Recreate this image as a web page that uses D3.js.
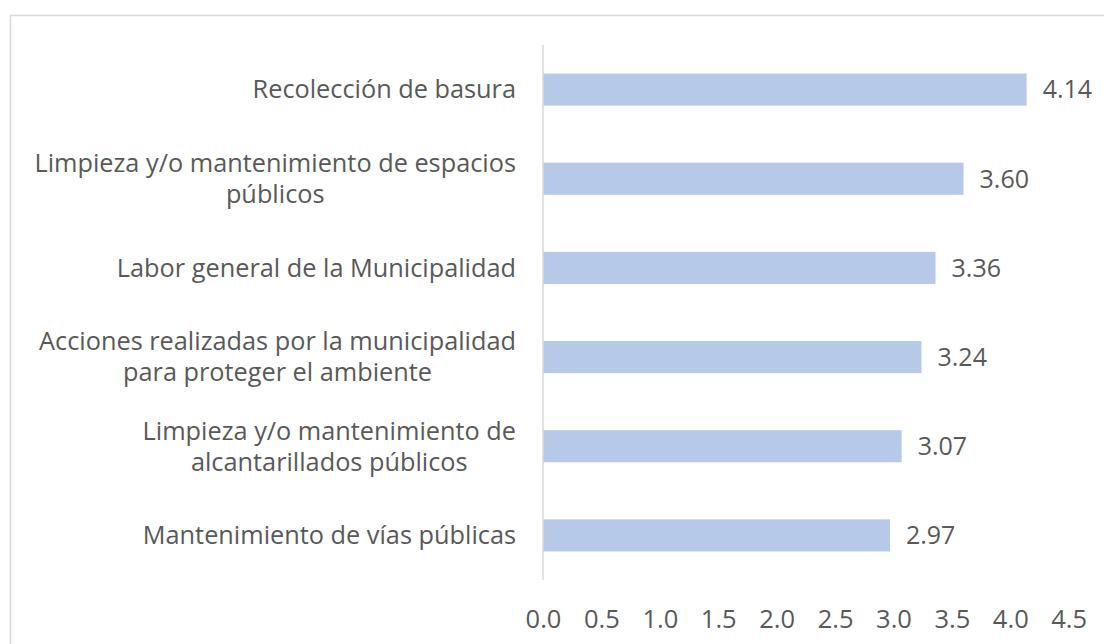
<!DOCTYPE html>
<html>
<head>
<meta charset="utf-8">
<script src="https://cdn.jsdelivr.net/npm/d3@7"></script>
<style>
  body { margin: 0; background: #fff; }
  text { font-family: "Open Sans", sans-serif; fill: #595959; }
</style>
</head>
<body>
<div id="container"></div>
<script>
// categories, top to bottom
var categories = [
  ["Recolección de basura"],
  ["Limpieza y/o mantenimiento de espacios", "públicos"],
  ["Labor general de la Municipalidad"],
  ["Acciones realizadas por la municipalidad", "para proteger el ambiente"],
  ["Limpieza y/o mantenimiento de", "alcantarillados públicos"],
  ["Mantenimiento de vías públicas"]
];
var values = [4.14, 3.60, 3.36, 3.24, 3.07, 2.97];
var tickValues = [0, 0.5, 1, 1.5, 2, 2.5, 3, 3.5, 4, 4.5];

var width = 1104, height = 644;

var svg = d3.select("#container").append("svg")
    .attr("width", width)
    .attr("height", height);

// chart frame
svg.append("rect")
    .attr("x", 10.5).attr("y", 15.5)
    .attr("width", width + 20).attr("height", height + 20)
    .attr("fill", "none")
    .attr("stroke", "#d9d9d9")
    .attr("stroke-width", 1.5);

var x = d3.scaleLinear().domain([0, 4.5]).range([543, 1068.7]);
var y = d3.scaleBand()
    .domain(d3.range(categories.length))
    .range([45, 580])
    .paddingInner(0.64)
    .paddingOuter(0.32);

// bars
svg.selectAll(".bar")
    .data(values)
  .enter().append("rect")
    .attr("class", "bar")
    .attr("x", x(0))
    .attr("y", function(d, i) { return y(i); })
    .attr("width", function(d) { return x(d) - x(0); })
    .attr("height", y.bandwidth())
    .attr("fill", "#b7c9e8");

// vertical axis line
svg.append("line")
    .attr("x1", x(0)).attr("x2", x(0))
    .attr("y1", 45).attr("y2", 580)
    .attr("stroke", "#d9d9d9")
    .attr("stroke-width", 1.5);

// value labels
svg.selectAll(".val")
    .data(values)
  .enter().append("text")
    .attr("class", "val")
    .attr("x", function(d) { return x(d) + 16; })
    .attr("y", function(d, i) { return y(i) + y.bandwidth() / 2; })
    .attr("dy", "0.35em")
    .style("font-size", "25px")
    .text(function(d) { return d.toFixed(2); });

// x tick labels
var xAxis = d3.axisBottom(x)
    .tickValues(tickValues)
    .tickSize(0)
    .tickPadding(0)
    .tickFormat(d3.format(".1f"));

var gx = svg.append("g")
    .attr("transform", "translate(0,610)")
    .call(xAxis);
gx.select(".domain").remove();
gx.selectAll("text")
    .style("font-size", "25.5px")
    .style("font-family", "'Open Sans', sans-serif")
    .attr("fill", "#595959");

// category labels (multi-line, centered in a block right-aligned at 516)
var lineH = 31;
var labelRight = 516;
categories.forEach(function(lines, i) {
  var cy = y(i) + y.bandwidth() / 2;
  var g = svg.append("g");
  var texts = g.selectAll("text")
      .data(lines)
    .enter().append("text")
      .style("font-size", "25.3px")
      .attr("text-anchor", "middle")
      .attr("y", function(d, j) { return cy + (j - (lines.length - 1) / 2) * lineH; })
      .attr("dy", "0.35em")
      .text(function(d) { return d; });
  var maxW = 0;
  texts.each(function() { maxW = Math.max(maxW, this.getComputedTextLength()); });
  texts.attr("x", labelRight - maxW / 2);
});
</script>
</body>
</html>
